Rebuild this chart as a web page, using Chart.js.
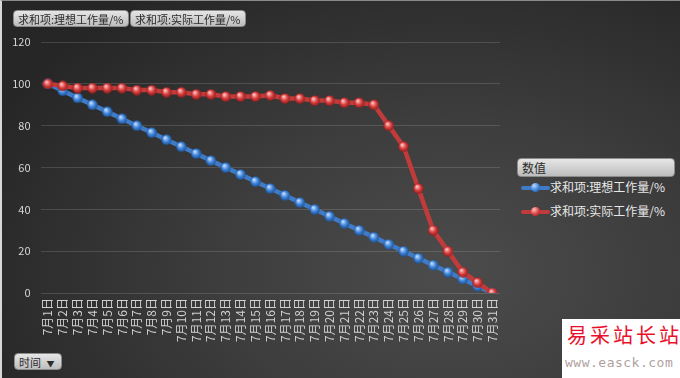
<!DOCTYPE html>
<html>
<head>
<meta charset="utf-8">
<script src="https://cdn.jsdelivr.net/npm/chart.js@4"></script>
<style>
  html, body { margin: 0; padding: 0; }
  body {
    width: 680px; height: 378px; overflow: hidden; position: relative;
    font-family: "Noto Sans CJK SC", "Noto Sans", sans-serif;
    background: radial-gradient(ellipse 75% 90% at 66% 72%, #4c4c4c 0%, #3d3d3d 45%, #262626 100%);
    box-sizing: border-box;
    border-left: 2px solid #d8d8d8;
    border-top: 1px solid #8a8a8a;
  }
  #wrap { position: absolute; left: 0; top: 0; width: 510px; height: 345px; }
  .btn {
    position: absolute; height: 17px; line-height: 16px; font-size: 11px; color: #2b2b2b;
    background: linear-gradient(#e6e6e6, #bdbdbd); border: 1px solid #8c8c8c; border-radius: 4px;
    padding: 0 4px; white-space: nowrap; box-sizing: border-box;
  }
  #legend { position: absolute; left: 515px; top: 157px; width: 158px; }
  #legend .title { position: static; width: 158px; height: 19px; line-height: 18px; font-size: 12px; }
  .item { position: relative; height: 24px; line-height: 24px; font-size: 12px; color: #e8e8e8; padding-left: 33px; white-space: nowrap; }
  .item .ln { position: absolute; left: 4px; top: 11px; width: 29px; height: 4px; border-radius: 2px; }
  .item .dot { position: absolute; left: 14px; top: 8px; width: 9px; height: 9px; border-radius: 50%; }
  #mark { position: absolute; left: 560px; top: 318px; width: 120px; height: 60px; background: #fff; overflow: hidden; }
  #mark .a { position: absolute; left: 5px; top: 4px; font-size: 20px; line-height: 24px; letter-spacing: 3px; color: #e8102a; white-space: nowrap; }
  #mark .b { position: absolute; left: 3px; top: 36px; font-size: 13px; letter-spacing: 0.5px; color: #b0a0a0; font-family: "DejaVu Sans Mono", monospace; white-space: nowrap; }
</style>
</head>
<body>
<div id="wrap"><canvas id="chart"></canvas></div>
<div class="btn" style="left:11px;top:9px;">求和项:理想工作量/%</div>
<div class="btn" style="left:128px;top:9px;">求和项:实际工作量/%</div>
<div class="btn" style="left:12px;top:352px;width:48px;">时间 <span style="font-size:8px;margin-left:3px;">&#9660;</span></div>
<div id="legend">
  <div class="btn title">数值</div>
  <div class="item" style="margin-top:-2px;"><span class="ln" style="background:#3f7bc6"></span><span class="dot" style="background:radial-gradient(circle at 35% 30%, #bcd8ff, #3c82d8 55%, #1f4f8e)"></span>求和项:理想工作量/%</div>
  <div class="item"><span class="ln" style="background:#c23b3b"></span><span class="dot" style="background:radial-gradient(circle at 35% 30%, #ffc0c0, #d83c3c 55%, #8a1e1e)"></span>求和项:实际工作量/%</div>
</div>
<div id="mark"><span class="a">易采站长站</span><span class="b">www.easck.com</span></div>
<script>
// 数据
const days = ['7月1日', '7月2日', '7月3日', '7月4日', '7月5日', '7月6日', '7月7日', '7月8日', '7月9日', '7月10日',
  '7月11日', '7月12日', '7月13日', '7月14日', '7月15日', '7月16日', '7月17日', '7月18日', '7月19日', '7月20日',
  '7月21日', '7月22日', '7月23日', '7月24日', '7月25日', '7月26日', '7月27日', '7月28日', '7月29日', '7月30日', '7月31日'];
const idealWork = [100, 96.7, 93.3, 90, 86.7, 83.3, 80, 76.7, 73.3, 70, 66.7, 63.3, 60, 56.7, 53.3, 50,
  46.7, 43.3, 40, 36.7, 33.3, 30, 26.7, 23.3, 20, 16.7, 13.3, 10, 6.7, 3.3, 0];
const actualWork = [100, 99, 98, 98, 98, 98, 97, 97, 96, 96, 95, 95, 94, 94, 94, 94.5,
  93, 93, 92, 92, 91, 91, 90, 80, 70, 50, 30, 20, 10, 5, 0];
const yTicks = [0, 20, 40, 60, 80, 100, 120];

// pallina 3D per i punti
function sphere(light, mid, dark) {
  const c = document.createElement('canvas');
  c.width = 11; c.height = 11;
  const g = c.getContext('2d');
  const grd = g.createRadialGradient(4, 3.5, 0.5, 5.5, 5.5, 5.5);
  grd.addColorStop(0, light);
  grd.addColorStop(0.55, mid);
  grd.addColorStop(1, dark);
  g.fillStyle = grd;
  g.beginPath();
  g.arc(5.5, 5.5, 5.2, 0, Math.PI * 2);
  g.fill();
  return c;
}
const blueDot = sphere('#c4ddff', '#3c82d8', '#1f4f8e');
const redDot = sphere('#ffc4c4', '#d83c3c', '#8a1e1e');

const ctx = document.getElementById('chart').getContext('2d');
new Chart(ctx, {
  type: 'line',
  data: {
    labels: days,
    datasets: [
      {
        label: '求和项:理想工作量/%',
        data: idealWork,
        borderColor: '#3f7bc6',
        borderWidth: 4.5,
        pointStyle: blueDot,
        pointRadius: 5,
        order: 1
      },
      {
        label: '求和项:实际工作量/%',
        data: actualWork,
        borderColor: '#c23b3b',
        borderWidth: 4.5,
        pointStyle: redDot,
        pointRadius: 5,
        order: 0
      }
    ]
  },
  options: {
    responsive: true,
    maintainAspectRatio: false,
    animation: false,
    layout: { padding: { top: 41, right: 9.5, left: 0, bottom: 0 } },
    plugins: { legend: { display: false }, tooltip: { enabled: false } },
    scales: {
      x: {
        offset: true,
        grid: { display: false, drawTicks: false },
        border: { display: false },
        ticks: {
          autoSkip: false, minRotation: 90, maxRotation: 90, padding: 5,
          color: '#d0d0d0', font: { size: 12, family: 'Noto Sans CJK SC' }
        },
        afterFit: (s) => { s.height = 53; }
      },
      y: {
        min: 0, max: 120,
        afterBuildTicks: (s) => { s.ticks = yTicks.map(v => ({ value: v })); },
        grid: { color: 'rgba(255,255,255,0.14)', drawTicks: false, lineWidth: 1 },
        border: { display: false },
        ticks: { padding: 10, color: '#d6d6d6', font: { size: 11, family: 'Noto Sans CJK SC' } },
        afterFit: (s) => { s.width = 38.5; }
      }
    }
  }
});
</script>
</body>
</html>
